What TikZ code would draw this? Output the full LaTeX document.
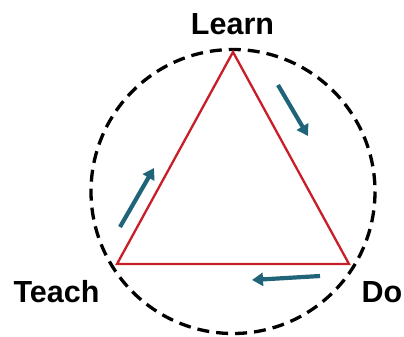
\documentclass[tikz,border=0pt]{standalone}
\usepackage{fontspec}
\setmainfont{Liberation Sans}
\usetikzlibrary{arrows.meta}
\definecolor{trired}{RGB}{200,30,40}
\definecolor{teal2}{RGB}{32,100,122}
\tikzset{
  lbl/.style={font=\bfseries\fontsize{30.5}{31}\selectfont, inner sep=0pt, anchor=base},
  flow/.style={teal2, line width=4.2pt, -{Triangle[length=11pt,width=13pt]}},
  triline/.style={trired, line width=2.3pt, line join=miter},
  ring/.style={black, line width=3.3pt, dash pattern=on 12pt off 7pt}
}
\begin{document}
\begin{tikzpicture}[x=1pt,y=-1pt]
\useasboundingbox (0,0) rectangle (404,337);
\coordinate (C) at (233,191.5);
\coordinate (L) at (233,52);
\coordinate (T) at (117,264);
\coordinate (D) at (349,264);
\draw[ring] (C) circle (142);
\draw[triline] (L) -- (D) -- (T) -- cycle;
\node[lbl] (learn) at (232.5,35) {Learn};
\node[lbl] (teach) at (56.5,302) {Teach};
\node[lbl] (do) at (382,302) {Do};
\coordinate (a1s) at (120,227);
\coordinate (a1e) at (154,168);
\coordinate (a2s) at (278,85);
\coordinate (a2e) at (308,136);
\coordinate (a3s) at (320,276);
\coordinate (a3e) at (252,280);
\draw[flow] (a1s) -- (a1e);
\draw[flow] (a2s) -- (a2e);
\draw[flow] (a3s) -- (a3e);
\end{tikzpicture}
\end{document}
